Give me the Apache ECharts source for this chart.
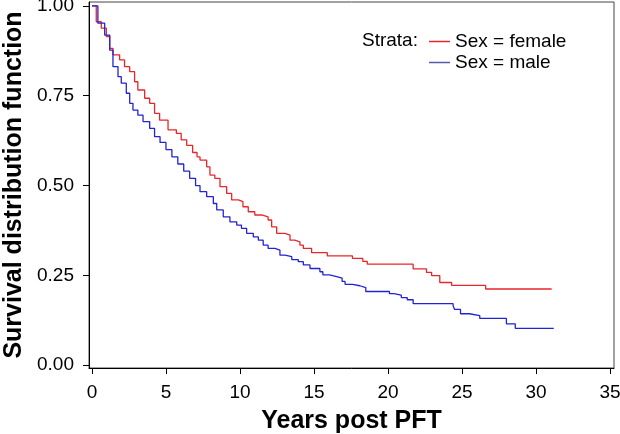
<!DOCTYPE html>
<html>
<head>
<meta charset="utf-8">
<script src="https://cdn.jsdelivr.net/npm/echarts@6/dist/echarts.min.js"></script>
<style>html,body{margin:0;padding:0;background:#fff}#c{width:620px;height:434px}</style>
</head>
<body>
<div id="c"></div>
<script>
var xTicks = [0, 5, 10, 15, 20, 25, 30, 35];
var yTicks = [0, 0.25, 0.5, 0.75, 1.0];
var seriesNames = ['Sex = female', 'Sex = male'];

var femaleT = [0, 0.29, 0.63, 0.97, 1.2, 1.42, 1.87, 2.2, 2.55, 2.88, 3.1, 3.56, 3.9, 4.23, 4.57, 5.14, 5.7, 6.03, 6.4, 6.8, 7.1, 7.3, 7.75, 7.97, 8.3, 8.65, 9.1, 9.44, 9.9, 10.2, 10.56, 11.0, 11.47, 11.9, 12.14, 12.48, 13.04, 13.38, 13.7, 14.05, 14.28, 14.84, 15.9, 17.6, 18.3, 18.6, 21.7, 22.6, 22.95, 23.5, 24.3, 26.6, 31.06];
var femaleS = [1.0, 0.956, 0.938, 0.915, 0.882, 0.864, 0.85, 0.831, 0.817, 0.789, 0.766, 0.743, 0.729, 0.701, 0.682, 0.655, 0.645, 0.627, 0.612, 0.592, 0.58, 0.571, 0.552, 0.529, 0.52, 0.497, 0.478, 0.46, 0.455, 0.441, 0.427, 0.418, 0.413, 0.404, 0.385, 0.367, 0.362, 0.348, 0.343, 0.334, 0.325, 0.313, 0.304, 0.297, 0.289, 0.281, 0.268, 0.258, 0.249, 0.230, 0.222, 0.212, 0.212];

var maleT = [0, 0.4, 0.86, 1.2, 1.42, 1.76, 1.98, 2.32, 2.55, 2.77, 3.1, 3.45, 3.9, 4.23, 4.6, 5.0, 5.4, 5.8, 6.2, 6.6, 7.0, 7.3, 7.75, 8.2, 8.43, 8.87, 9.32, 9.78, 10.1, 10.45, 10.9, 11.24, 11.57, 11.9, 12.36, 12.7, 13.04, 13.5, 13.94, 14.28, 14.73, 15.4, 15.6, 16.05, 16.6, 16.9, 17.1, 17.6, 18.1, 18.5, 20.1, 20.4, 20.9, 21.3, 21.7, 24.4, 24.5, 24.9, 25.5, 26.2, 28.0, 28.6, 31.2];
var maleS = [1.0, 0.952, 0.919, 0.877, 0.831, 0.803, 0.785, 0.757, 0.729, 0.71, 0.696, 0.678, 0.659, 0.636, 0.62, 0.60, 0.58, 0.56, 0.54, 0.52, 0.50, 0.483, 0.469, 0.45, 0.432, 0.413, 0.399, 0.39, 0.381, 0.367, 0.357, 0.348, 0.334, 0.325, 0.32, 0.306, 0.302, 0.294, 0.288, 0.279, 0.269, 0.26, 0.251, 0.246, 0.242, 0.233, 0.225, 0.221, 0.216, 0.205, 0.199, 0.195, 0.188, 0.182, 0.171, 0.165, 0.155, 0.143, 0.138, 0.130, 0.115, 0.1025, 0.1025];

function pairs(t, s) { return t.map(function (v, i) { return [v, s[i]]; }); }

var FONT = 'Liberation Sans, Arial, sans-serif';
var chart = echarts.init(document.getElementById('c'), null, { renderer: 'canvas' });
chart.setOption({
  animation: false,
  backgroundColor: '#fff',
  textStyle: { fontFamily: FONT },
  grid: { left: 89, right: 6, top: 2, bottom: 66, show: true, borderColor: '#444', borderWidth: 1,
    containLabel: false, outerBoundsMode: 'none' },
  xAxis: {
    type: 'value', min: -0.2, max: 35.27,
    splitLine: { show: false },
    axisLine: { show: true, onZero: false, lineStyle: { color: '#000', width: 1 } },
    axisTick: { show: true, length: 6, inside: false, customValues: xTicks, lineStyle: { color: '#000' } },
    axisLabel: { customValues: xTicks, margin: 15, color: '#000', fontSize: 19, fontFamily: FONT },
    name: 'Years post PFT', nameLocation: 'middle', nameGap: 41,
    nameTextStyle: { fontSize: 25, fontWeight: 'bold', color: '#000', fontFamily: FONT }
  },
  yAxis: {
    type: 'value', min: -0.008, max: 1.011,
    splitLine: { show: false },
    axisLine: { show: true, onZero: false, lineStyle: { color: '#000', width: 1 } },
    axisTick: { show: true, length: 6, inside: false, customValues: yTicks, lineStyle: { color: '#000' } },
    axisLabel: { customValues: yTicks, margin: 15, color: '#000', fontSize: 19, fontFamily: FONT,
      formatter: function (v) { return v.toFixed(2); } },
    name: 'Survival distribution function', nameLocation: 'middle', nameGap: 58,
    nameTextStyle: { fontSize: 25, fontWeight: 'bold', color: '#000', fontFamily: FONT }
  },
  legend: {
    orient: 'vertical', left: 429, top: 32, padding: 0, itemWidth: 21, itemHeight: 1.5, itemGap: 2,
    icon: 'rect',
    data: seriesNames,
    textStyle: { fontSize: 19, color: '#000', fontFamily: FONT, lineHeight: 18 }
  },
  graphic: [{
    type: 'text', left: 362, top: 31,
    style: { text: 'Strata:', fontSize: 19, fontFamily: FONT, fill: '#000' }
  }],
  series: [
    { name: seriesNames[0], type: 'line', step: 'end', showSymbol: false, data: pairs(femaleT, femaleS),
      lineStyle: { color: '#e8262a', width: 1.3 }, itemStyle: { color: '#e8262a' } },
    { name: seriesNames[1], type: 'line', step: 'end', showSymbol: false, data: pairs(maleT, maleS),
      lineStyle: { color: '#2323d2', width: 1.3 }, itemStyle: { color: '#5a5aa8' } }
  ]
});
</script>
</body>
</html>
